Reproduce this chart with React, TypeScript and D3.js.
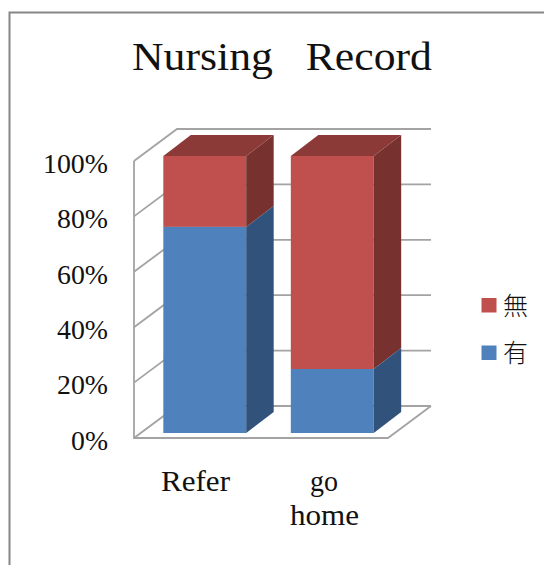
import React from "react";
import * as d3 from "d3";

const categories = ["Refer", "go home"];
const seriesNames = ["有", "無"];
const presentShare = [0.744, 0.231];
const absentShare = [0.256, 0.769];
const tickValues = [0, 0.2, 0.4, 0.6, 0.8, 1];
const tickLabels = ["0%", "20%", "40%", "60%", "80%", "100%"];
const tickLabelWidths = [37, 51, 51, 51, 51, 65];

const frontColors = ["#4F81BD", "#C0504D"];
const sideColors = ["#31527A", "#773230"];
const topColor = "#8C3A38";
const gridColor = "#A3A3A3";
const frameColor = "#868686";
const serif = "'Liberation Serif', serif";
const cjk = "'Noto Sans CJK JP', sans-serif";

const y = d3.scaleLinear().domain([0, 1]).range([433, 156]);
const x = d3
  .scaleBand<string>()
  .domain(categories)
  .range([141, 396])
  .paddingInner(0.35)
  .paddingOuter(0.175);

// Oblique offsets of the 3D box: bars and walls recede up and to the right.
const barDepth = { dx: 27.5, dy: -21 };
const wallDepth = { dx: 43, dy: -32 };
const wallFront = { left: 134, right: 388, drop: 5 };

const poly = d3.line<[number, number]>();

function Box({ xPos, y0, y1, width, color }: { xPos: number; y0: number; y1: number; width: number; color: number }) {
  const { dx, dy } = barDepth;
  const r = xPos + width;
  return (
    <g>
      <rect x={xPos} y={y1} width={width} height={y0 - y1} fill={frontColors[color]} />
      <path
        d={poly([[r, y0], [r + dx, y0 + dy], [r + dx, y1 + dy], [r, y1]]) + "Z"}
        fill={sideColors[color]}
      />
    </g>
  );
}

// Serif label stretched to the wide proportions of the chart's typeface.
function Label({ x: px, y: py, size, width, anchor, children }: { x: number; y: number; size: number; width: number; anchor: string; children: string }) {
  return (
    <text
      x={px}
      y={py}
      fontFamily={serif}
      fontSize={size}
      textAnchor={anchor}
      textLength={width}
      lengthAdjust="spacingAndGlyphs"
      xmlSpace="preserve"
      fill="#111"
    >
      {children}
    </text>
  );
}

export default function App() {
  const bw = x.bandwidth();
  const wallY = (t: number) => y(t) + wallFront.drop;
  const backX = wallFront.left + wallDepth.dx;
  const backRight = wallFront.right + wallDepth.dx;
  const words = categories[1].split(" ");
  return (
    <svg
      width={544}
      height={565}
      style={{ position: "absolute", left: 0, top: 0, background: "#fff" }}
    >
      <path d="M544,12.5H9.5V565" fill="none" stroke={frameColor} strokeWidth={2} />
      <Label x={282} y={70} size={41} width={300} anchor="middle">
        {"Nursing   Record"}
      </Label>

      {/* back wall gridlines, side wall ticks and floor */}
      <g fill="none" stroke={gridColor} strokeWidth={1.8}>
        {tickValues.map((t) => (
          <path
            key={t}
            d={
              poly([
                [wallFront.left, wallY(t)],
                [backX, wallY(t) + wallDepth.dy],
                [backRight, wallY(t) + wallDepth.dy],
              ]) ?? ""
            }
          />
        ))}
        <path d={poly([[wallFront.left, wallY(1)], [wallFront.left, wallY(0)], [wallFront.right, wallY(0)], [backRight, wallY(0) + wallDepth.dy]]) ?? ""} />
      </g>

      {/* stacked boxes */}
      {categories.map((c, i) => {
        const xPos = x(c) as number;
        const split = presentShare[i];
        const total = split + absentShare[i];
        const { dx, dy } = barDepth;
        return (
          <g key={c}>
            <Box xPos={xPos} y0={y(split)} y1={y(total)} width={bw} color={1} />
            <Box xPos={xPos} y0={y(0)} y1={y(split)} width={bw} color={0} />
            <path
              d={
                poly([
                  [xPos, y(total)],
                  [xPos + dx, y(total) + dy],
                  [xPos + bw + dx, y(total) + dy],
                  [xPos + bw, y(total)],
                ]) + "Z"
              }
              fill={topColor}
            />
          </g>
        );
      })}

      {tickValues.map((t, i) => (
        <Label key={t} x={108} y={y(t) + 16.7} size={26.5} width={tickLabelWidths[i]} anchor="end">
          {tickLabels[i]}
        </Label>
      ))}

      <Label x={195.5} y={491} size={29} width={69} anchor="middle">
        {categories[0]}
      </Label>
      <Label x={324} y={491} size={29} width={28} anchor="middle">
        {words[0]}
      </Label>
      <Label x={324.5} y={525} size={29} width={69} anchor="middle">
        {words[1]}
      </Label>

      {/* legend, top entry is the upper stack segment */}
      {[1, 0].map((s, i) => (
        <g key={s}>
          <rect x={481.5} y={298 + i * 47.5} width={15} height={14.5} fill={frontColors[s]} />
          <text x={503} y={314.5 + i * 47.5} fontFamily={cjk} fontWeight={300} fontSize={25} fill="#111">
            {seriesNames[s]}
          </text>
        </g>
      ))}
    </svg>
  );
}
